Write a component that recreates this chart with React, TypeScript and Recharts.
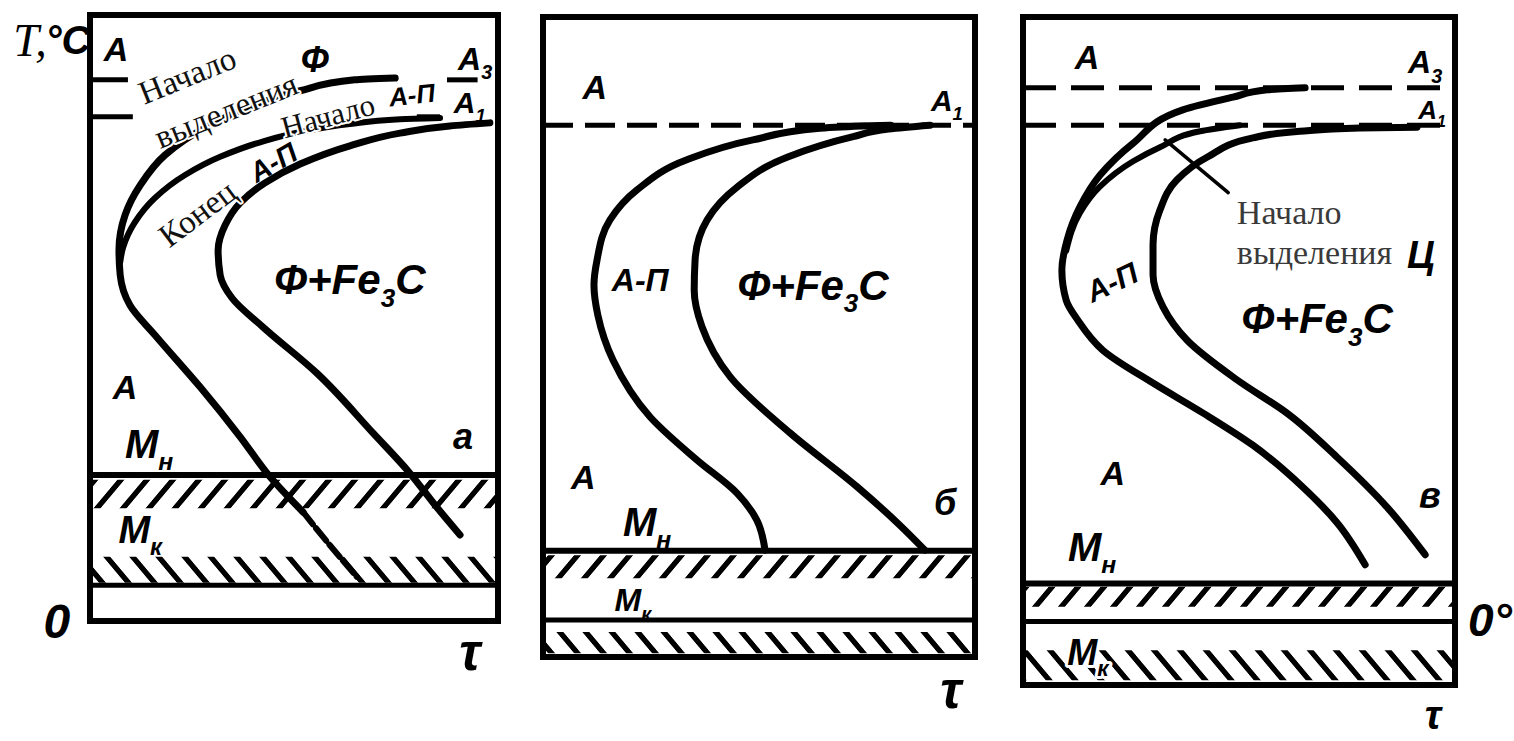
import React from 'react';
import {
  LineChart,
  Line,
  XAxis,
  YAxis,
  ReferenceLine,
  ReferenceArea,
  ReferenceDot,
} from 'recharts';

// Isothermal decomposition diagrams of undercooled austenite.
// t – relative holding time (0–100 across the frame), T – relative temperature (0–100 up the frame).
type Pt = { t: number; T: number };

// ---------- а: hypoeutectoid steel ----------
const aFerriteStart: Pt[] = [
  { t: 74.8, T: 89.6 }, { t: 64.9, T: 89.3 }, { t: 51.5, T: 87.5 }, { t: 39.2, T: 84.8 },
  { t: 28.2, T: 81.4 }, { t: 18.4, T: 76.9 }, { t: 12.3, T: 71.9 }, { t: 8.6, T: 67.0 },
  { t: 7.1, T: 61.2 }, { t: 7.4, T: 57.1 }, { t: 9.8, T: 52.1 }, { t: 15.9, T: 47.2 },
  { t: 27.0, T: 38.6 }, { t: 36.8, T: 30.4 }, { t: 44.1, T: 23.8 }, { t: 52.2, T: 18.0 },
];
const aFerriteStartBelowMs: Pt[] = [
  { t: 52.2, T: 18.0 }, { t: 58.8, T: 12.5 }, { t: 65.4, T: 7.3 },
];
const aPearliteStart: Pt[] = [
  { t: 85.8, T: 83.0 }, { t: 76.0, T: 82.8 }, { t: 63.7, T: 82.0 }, { t: 51.5, T: 80.7 },
  { t: 41.7, T: 79.0 }, { t: 31.9, T: 76.6 }, { t: 23.3, T: 73.6 }, { t: 15.9, T: 69.8 },
  { t: 11.0, T: 65.8 }, { t: 8.1, T: 61.6 }, { t: 7.4, T: 59.2 },
];
const aPearliteEnd: Pt[] = [
  { t: 98.0, T: 82.2 }, { t: 88.2, T: 81.7 }, { t: 76.0, T: 80.5 }, { t: 63.7, T: 78.4 },
  { t: 51.5, T: 75.4 }, { t: 42.9, T: 72.3 }, { t: 36.8, T: 69.0 }, { t: 33.1, T: 65.3 },
  { t: 31.4, T: 61.2 }, { t: 31.9, T: 57.1 }, { t: 34.8, T: 53.3 }, { t: 42.4, T: 48.5 },
  { t: 55.6, T: 40.9 }, { t: 69.4, T: 31.0 }, { t: 78.4, T: 24.4 }, { t: 84.6, T: 19.1 },
  { t: 90.7, T: 14.2 },
];
const aLevelA3 = 89.3;
const aLevelA1 = 83.2;
const aA3Pieces = [[0, 9.3], [87.5, 95]];
const aA1Pieces = [[0, 10.5], [80.1, 85.8]];
const aSolidLevels = [24.1, 5.9];
const aMsBand = [18.6, 23.3];
const aMfBand = [6.3, 10.6];

// ---------- б: eutectoid steel ----------
const bPearliteStart: Pt[] = [
  { t: 80.5, T: 83.1 }, { t: 75.7, T: 83.0 }, { t: 64.1, T: 82.6 }, { t: 48.6, T: 80.8 },
  { t: 33.3, T: 77.7 }, { t: 21.8, T: 73.0 }, { t: 15.5, T: 68.3 }, { t: 12.5, T: 62.0 },
  { t: 11.8, T: 58.1 }, { t: 12.7, T: 53.4 }, { t: 16.2, T: 46.4 }, { t: 24.8, T: 37.5 },
  { t: 35.6, T: 30.8 }, { t: 44.9, T: 25.6 }, { t: 49.5, T: 21.4 }, { t: 51.4, T: 16.7 },
];
const bPearliteEnd: Pt[] = [
  { t: 89.6, T: 83.1 }, { t: 80.0, T: 82.5 }, { t: 71.8, T: 81.3 }, { t: 56.5, T: 78.1 },
  { t: 44.9, T: 73.4 }, { t: 38.0, T: 68.3 }, { t: 35.2, T: 62.0 }, { t: 35.0, T: 57.3 },
  { t: 36.8, T: 51.6 }, { t: 43.3, T: 43.8 }, { t: 57.2, T: 35.0 }, { t: 72.7, T: 26.6 },
  { t: 82.6, T: 20.6 }, { t: 88.4, T: 16.7 },
];
const bLevelA1 = 83.1;
const bSolidLevels = [16.6, 5.8];
const bMsBand = [12.3, 15.9];
const bMfBand = [0.6, 3.9];

// ---------- в: hypereutectoid steel ----------
const cCementiteStart: Pt[] = [
  { t: 65.3, T: 89.4 }, { t: 56.5, T: 89.1 }, { t: 48.6, T: 88.0 }, { t: 37.0, T: 86.1 },
  { t: 25.5, T: 81.1 }, { t: 17.8, T: 76.3 }, { t: 13.2, T: 71.6 }, { t: 10.2, T: 66.6 },
  { t: 9.0, T: 62.1 }, { t: 10.0, T: 57.6 }, { t: 12.7, T: 54.6 }, { t: 18.5, T: 50.1 },
  { t: 30.1, T: 45.2 }, { t: 41.7, T: 40.7 }, { t: 53.2, T: 35.9 }, { t: 64.8, T: 29.6 },
  { t: 72.7, T: 24.3 }, { t: 79.2, T: 18.0 },
];
const cPearliteStart: Pt[] = [
  { t: 50.2, T: 83.8 }, { t: 41.0, T: 82.9 }, { t: 31.7, T: 80.5 }, { t: 25.5, T: 78.4 },
  { t: 17.8, T: 74.6 }, { t: 13.2, T: 70.7 }, { t: 10.0, T: 65.0 },
];
const cPearliteEnd: Pt[] = [
  { t: 91.2, T: 83.5 }, { t: 78.0, T: 83.4 }, { t: 64.1, T: 82.9 }, { t: 53.2, T: 81.9 },
  { t: 42.6, T: 79.0 }, { t: 35.6, T: 75.6 }, { t: 31.7, T: 71.1 }, { t: 30.1, T: 65.9 },
  { t: 30.1, T: 61.4 }, { t: 32.4, T: 56.6 }, { t: 38.0, T: 51.6 }, { t: 49.5, T: 45.7 },
  { t: 61.1, T: 40.7 }, { t: 72.7, T: 34.1 }, { t: 84.3, T: 26.6 }, { t: 93.1, T: 19.5 },
];
const cLeader: Pt[] = [{ t: 32.9, T: 81.6 }, { t: 47.5, T: 73.7 }];
const cLevelA3 = 89.4;
const cLevelA1 = 83.8;
const cSolidLevels = [15.2, 9.5];
const cMsBand = [11.7, 14.7];
const cMfBand = [0.7, 5.2];

// ---------- text annotations ----------
type Note = {
  t: number;
  T: number;
  text: string;
  sub?: string;
  tail?: string;
  kind: 'hand' | 'handHalo' | 'serif' | 'serifGray' | 'serifItalic';
  size: number;
  rot?: number;
  anchor?: 'start' | 'middle';
};

const aNotes: Note[] = [
  { t: 6.4, T: 94.4, text: 'А', kind: 'hand', size: 34 },
  { t: 55.1, T: 92.6, text: 'Ф', kind: 'hand', size: 36 },
  { t: 94.4, T: 92.8, text: 'А', sub: '3', kind: 'hand', size: 32 },
  { t: 93.1, T: 85.6, text: 'А', sub: '1', kind: 'hand', size: 30 },
  { t: 23.8, T: 90.1, text: 'Начало', kind: 'serif', size: 33, rot: -22 },
  { t: 33.3, T: 84.3, text: 'выделения', kind: 'serif', size: 33, rot: -22 },
  { t: 58.3, T: 83.4, text: 'Начало', kind: 'serif', size: 31, rot: -15 },
  { t: 78.9, T: 86.8, text: 'А-П', kind: 'hand', size: 26, rot: -6 },
  { t: 26.2, T: 67.3, text: 'Конец', kind: 'serif', size: 33, rot: -37 },
  { t: 44.9, T: 75.7, text: 'А-П', kind: 'hand', size: 28, rot: -30 },
  { t: 63.7, T: 56.4, text: 'Ф+Fe', sub: '3', tail: 'C', kind: 'hand', size: 42 },
  { t: 8.6, T: 38.6, text: 'А', kind: 'hand', size: 34 },
  { t: 14.5, T: 29.2, text: 'М', sub: 'н', kind: 'hand', size: 40 },
  { t: 91.4, T: 30.4, text: 'а', kind: 'hand', size: 36 },
  { t: 12.3, T: 15.0, text: 'М', sub: 'к', kind: 'hand', size: 38 },
  { t: -8.1, T: 0, text: '0', kind: 'hand', size: 48 },
  { t: 93.1, T: -5.0, text: 'τ', kind: 'hand', size: 52 },
  { t: -14.7, T: 95.9, text: 'T,', kind: 'serifItalic', size: 46 },
  { t: -5.4, T: 95.9, text: '°C', kind: 'hand', size: 40 },
];

const bNotes: Note[] = [
  { t: 12.0, T: 89.1, text: 'А', kind: 'hand', size: 34 },
  { t: 93.5, T: 86.9, text: 'А', sub: '1', kind: 'hand', size: 30 },
  { t: 22.5, T: 58.9, text: 'А-П', kind: 'hand', size: 32 },
  { t: 62.5, T: 58.1, text: 'Ф+Fe', sub: '3', tail: 'C', kind: 'hand', size: 42 },
  { t: 9.3, T: 28.1, text: 'А', kind: 'hand', size: 34 },
  { t: 24.1, T: 21.1, text: 'М', sub: 'н', kind: 'hand', size: 40 },
  { t: 93.1, T: 24.2, text: 'б', kind: 'hand', size: 36 },
  { t: 20.8, T: 8.9, text: 'М', sub: 'к', kind: 'hand', size: 32 },
  { t: 94.4, T: -5.2, text: 'τ', kind: 'hand', size: 52 },
];

const cNotes: Note[] = [
  { t: 14.8, T: 94.0, text: 'А', kind: 'hand', size: 34 },
  { t: 93.1, T: 93.3, text: 'А', sub: '3', kind: 'hand', size: 32 },
  { t: 94.7, T: 86.1, text: 'А', sub: '1', kind: 'hand', size: 26 },
  { t: 49.5, T: 70.8, text: 'Начало', kind: 'serifGray', size: 34, anchor: 'start' },
  { t: 49.5, T: 64.8, text: 'выделения', kind: 'serifGray', size: 34, anchor: 'start' },
  { t: 92.1, T: 64.4, text: 'Ц', kind: 'hand', size: 38 },
  { t: 20.6, T: 60.3, text: 'А-П', kind: 'hand', size: 30, rot: -25 },
  { t: 68.1, T: 54.9, text: 'Ф+Fe', sub: '3', tail: 'C', kind: 'hand', size: 42 },
  { t: 20.8, T: 31.7, text: 'А', kind: 'hand', size: 34 },
  { t: 16.0, T: 20.7, text: 'М', sub: 'н', kind: 'hand', size: 40 },
  { t: 94.2, T: 28.4, text: 'в', kind: 'hand', size: 36 },
  { t: 15.0, T: 4.9, text: 'М', sub: 'к', kind: 'handHalo', size: 36 },
  { t: 108.1, T: 9.7, text: '0°', kind: 'hand', size: 46 },
  { t: 94.9, T: -4.5, text: 'τ', kind: 'hand', size: 40 },
];

const NOTE_STYLES: Record<Note['kind'], { family: string; weight: number; style: string; fill: string; halo: number }> = {
  hand: { family: '"Liberation Sans", "DejaVu Sans", sans-serif', weight: 700, style: 'italic', fill: '#000', halo: 0 },
  handHalo: { family: '"Liberation Sans", "DejaVu Sans", sans-serif', weight: 700, style: 'italic', fill: '#000', halo: 6 },
  serif: { family: '"Liberation Serif", "DejaVu Serif", serif', weight: 400, style: 'normal', fill: '#111', halo: 4 },
  serifGray: { family: '"Liberation Serif", "DejaVu Serif", serif', weight: 400, style: 'normal', fill: '#3a3a3a', halo: 0 },
  serifItalic: { family: '"Liberation Serif", "DejaVu Serif", serif', weight: 400, style: 'italic', fill: '#000', halo: 0 },
};

const noteShape = (n: Note) => (p: any) => {
  const st = NOTE_STYLES[n.kind];
  const cx = p.cx;
  const cy = p.cy;
  const fs = n.size;
  const shift = fs * 0.3;
  return (
    <text
      x={cx}
      y={cy + fs * 0.35}
      transform={n.rot ? `rotate(${n.rot} ${cx} ${cy})` : undefined}
      fontFamily={st.family}
      fontWeight={st.weight}
      fontStyle={st.style}
      fontSize={fs}
      fill={st.fill}
      textAnchor={n.anchor ?? 'middle'}
      stroke={st.halo ? '#fff' : 'none'}
      strokeWidth={st.halo}
      strokeLinejoin="round"
      paintOrder="stroke"
    >
      {n.text}
      {n.sub && (
        <tspan fontSize={fs * 0.62} dy={shift}>
          {n.sub}
        </tspan>
      )}
      {n.tail && <tspan dy={-shift}>{n.tail}</tspan>}
    </text>
  );
};

type Series = { data: Pt[]; dashed?: boolean; width?: number; curve?: 'monotoneY' | 'linear' };
type DashedLevel = { T: number; pieces?: number[][]; dash: string };

type PanelProps = {
  id: string;
  left: number;
  width: number;
  margin: { top: number; right: number; bottom: number; left: number };
  series: Series[];
  dashedLevels: DashedLevel[];
  solidLevels: number[];
  msBand: number[];
  mfBand: number[];
  notes: Note[];
};

function Panel({ id, left, width, margin, series, dashedLevels, solidLevels, msBand, mfBand, notes }: PanelProps) {
  return (
    <div style={{ position: 'absolute', left, top: 0, width, height: 741 }}>
      <LineChart width={width} height={741} margin={margin}>
        <defs>
          <pattern id={`${id}-up`} width={26} height={20} patternUnits="userSpaceOnUse" patternTransform="skewX(-40)">
            <rect x={0} y={0} width={7} height={20} fill="#000" />
          </pattern>
          <pattern id={`${id}-down`} width={26} height={20} patternUnits="userSpaceOnUse" patternTransform="skewX(40)">
            <rect x={0} y={0} width={7} height={20} fill="#000" />
          </pattern>
        </defs>
        <XAxis type="number" dataKey="t" domain={[0, 100]} hide />
        <YAxis type="number" dataKey="T" domain={[0, 100]} hide />

        <ReferenceArea x1={0} x2={100} y1={msBand[0]} y2={msBand[1]} fill={`url(#${id}-up)`} fillOpacity={1} stroke="none" />
        <ReferenceArea x1={0} x2={100} y1={mfBand[0]} y2={mfBand[1]} fill={`url(#${id}-down)`} fillOpacity={1} stroke="none" />
        <ReferenceArea x1={0} x2={100} y1={0} y2={100} fill="none" fillOpacity={0} stroke="#000" strokeWidth={6} />

        {solidLevels.map((T, i) => (
          <ReferenceLine key={`s${i}`} y={T} stroke="#000" strokeWidth={i === 0 ? 6 : 5} />
        ))}
        {dashedLevels.map((lv, i) =>
          lv.pieces ? (
            lv.pieces.map((pc, j) => (
              <ReferenceLine
                key={`d${i}-${j}`}
                segment={[{ x: pc[0], y: lv.T }, { x: pc[1], y: lv.T }]}
                stroke="#000"
                strokeWidth={5}
              />
            ))
          ) : (
            <ReferenceLine key={`d${i}`} y={lv.T} stroke="#000" strokeWidth={5} strokeDasharray={lv.dash} />
          ),
        )}

        {series.map((s, i) => (
          <Line
            key={`l${i}`}
            data={s.data}
            dataKey="T"
            type={s.curve ?? 'monotoneY'}
            stroke="#000"
            strokeWidth={s.width ?? 7}
            strokeDasharray={s.dashed ? '16 5' : undefined}
            strokeLinecap="round"
            strokeLinejoin="round"
            dot={false}
            activeDot={false}
            isAnimationActive={false}
          />
        ))}

        {notes.map((n, i) => (
          <ReferenceDot key={`n${i}`} x={n.t} y={n.T} r={0} ifOverflow="visible" shape={noteShape(n)} />
        ))}
      </LineChart>
    </div>
  );
}

export default function App() {
  return (
    <div
      style={{
        position: 'fixed',
        left: 0,
        top: 0,
        width: 1514,
        height: 741,
        background: '#fff',
        overflow: 'hidden',
      }}
    >
      <Panel
        id="pa"
        left={0}
        width={518}
        margin={{ top: 15, right: 20, bottom: 120, left: 90 }}
        series={[
          { data: aFerriteStart },
          { data: aFerriteStartBelowMs, dashed: true, width: 6 },
          { data: aPearliteStart, width: 6 },
          { data: aPearliteEnd },
        ]}
        dashedLevels={[
          { T: aLevelA3, pieces: aA3Pieces, dash: '' },
          { T: aLevelA1, pieces: aA1Pieces, dash: '' },
        ]}
        solidLevels={aSolidLevels}
        msBand={aMsBand}
        mfBand={aMfBand}
        notes={aNotes}
      />
      <Panel
        id="pb"
        left={520}
        width={475}
        margin={{ top: 17, right: 20, bottom: 84, left: 23 }}
        series={[{ data: bPearliteStart }, { data: bPearliteEnd }]}
        dashedLevels={[{ T: bLevelA1, dash: '30 12' }]}
        solidLevels={bSolidLevels}
        msBand={bMsBand}
        mfBand={bMfBand}
        notes={bNotes}
      />
      <Panel
        id="pc"
        left={995}
        width={519}
        margin={{ top: 17, right: 59, bottom: 56, left: 28 }}
        series={[
          { data: cCementiteStart },
          { data: cPearliteStart, width: 6 },
          { data: cPearliteEnd },
          { data: cLeader, width: 3.5, curve: 'linear' },
        ]}
        dashedLevels={[
          { T: cLevelA3, dash: '33 15' },
          { T: cLevelA1, dash: '33 15' },
        ]}
        solidLevels={cSolidLevels}
        msBand={cMsBand}
        mfBand={cMfBand}
        notes={cNotes}
      />
    </div>
  );
}
